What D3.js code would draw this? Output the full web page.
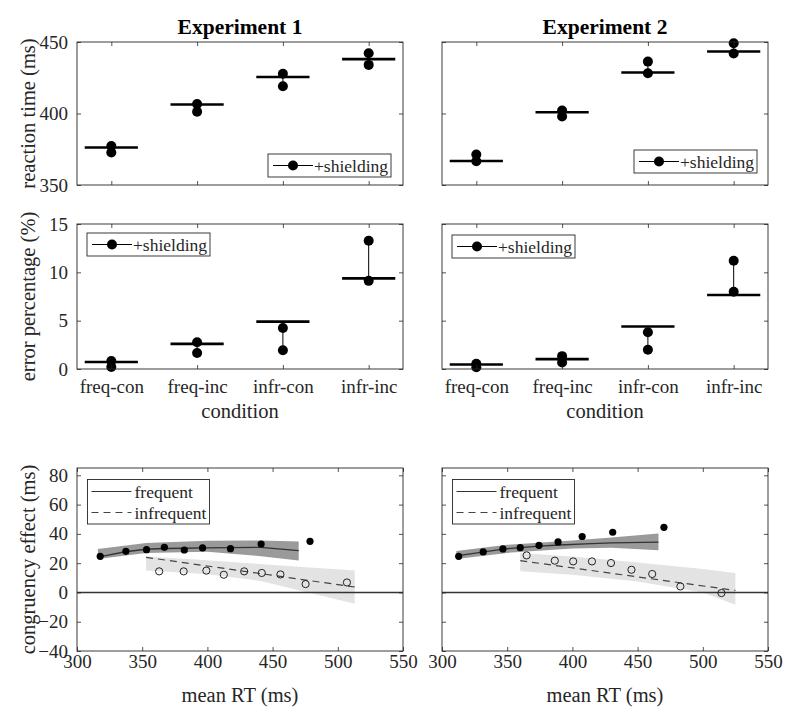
<!DOCTYPE html>
<html>
<head>
<meta charset="utf-8">
<script src="https://cdn.jsdelivr.net/npm/d3@7"></script>
<style>
  body { margin: 0; background: #fff; font-family: "Liberation Serif", serif; }
</style>
</head>
<body>
<div class="chart"></div>
<script>
// ---- data ----
const conditions = ["freq-con", "freq-inc", "infr-con", "infr-inc"];
const catTicks = [1, 2, 3, 4];

// reaction time (ms): observed mean + two model dots per condition
const rtMean1 = [376.2, 406.3, 425.5, 438.0];
const rtDotA1 = [377.3, 406.7, 427.8, 442.1];
const rtDotB1 = [372.7, 401.2, 419.0, 434.0];
const rtMean2 = [366.8, 400.9, 428.7, 443.4];
const rtDotA2 = [371.3, 402.1, 436.3, 449.1];
const rtDotB2 = [366.6, 397.9, 428.2, 442.0];

// error percentage (%)
const errMean1 = [0.73, 2.6, 4.9, 9.37];
const errDotA1 = [0.83, 2.77, 4.25, 13.26];
const errDotB1 = [0.2, 1.66, 1.94, 9.12];
const errMean2 = [0.47, 1.02, 4.4, 7.66];
const errDotA2 = [0.54, 1.33, 3.8, 11.2];
const errDotB2 = [0.19, 0.68, 2.0, 8.0];

// congruency effect vs mean RT, Experiment 1
const freqRT1 = [317.8, 337.5, 353.3, 367, 382.3, 396.3, 417.7, 441.2, 478.7];
const freqCE1 = [24.7, 28.1, 29.2, 30.8, 29.0, 30.4, 29.9, 33.1, 34.9];
const infrRT1 = [363, 381.8, 399.2, 412.6, 428.2, 441.7, 456, 475.3, 507];
const infrCE1 = [14.4, 14.4, 14.9, 12.1, 14.4, 13.3, 12.3, 5.7, 6.8];
const freqFitRT1 = [318, 337, 353, 367, 382, 396, 418, 441, 470];
const freqFitCE1 = [24.5, 27.8, 29.5, 30.0, 30.2, 30.4, 30.6, 30.8, 28.5];
const freqBandRT1 = [316, 353, 400, 441, 470];
const freqBandHi1 = [29.7, 33.8, 35.3, 35.5, 34.8];
const freqBandLo1 = [22.9, 27.0, 27.8, 24.8, 21.9];
const infrFitRT1 = [353, 513];
const infrFitCE1 = [24.0, 3.7];
const infrBandRT1 = [353, 400, 440, 470, 513];
const infrBandHi1 = [24.5, 22.0, 19.5, 17.5, 15.0];
const infrBandLo1 = [15.0, 12.5, 8.0, 1.5, -7.7];

// congruency effect vs mean RT, Experiment 2
const freqRT2 = [312.8, 331.6, 346.7, 360, 374.4, 389, 407.5, 430.9, 470.2];
const freqCE2 = [24.7, 27.7, 29.7, 30.6, 32.2, 34.5, 38.2, 41.1, 44.5];
const infrRT2 = [364.9, 386.5, 400.6, 415, 429.6, 445.3, 461.2, 482.8, 514.3];
const infrCE2 = [25.3, 21.7, 21.2, 21.2, 20.1, 15.5, 12.6, 4.1, -0.4];
const freqFitRT2 = [311, 331, 347, 360, 375, 390, 410, 430, 466];
const freqFitCE2 = [25.0, 27.5, 29.6, 30.6, 31.6, 32.4, 33.2, 33.8, 34.4];
const freqBandRT2 = [311, 350, 400, 430, 466];
const freqBandHi2 = [28.3, 32.5, 35.5, 37.5, 40.2];
const freqBandLo2 = [22.9, 27.0, 30.0, 30.5, 28.8];
const infrFitRT2 = [360, 525];
const infrFitCE2 = [21.7, 1.4];
const infrBandRT2 = [360, 400, 450, 500, 525];
const infrBandHi2 = [27.0, 24.5, 20.5, 16.0, 13.3];
const infrBandLo2 = [14.4, 12.0, 7.5, 0.0, -8.4];

const rtTicks = [350, 400, 450];
const errTicks = [0, 5, 10, 15];
const ceTicks = [-40, -20, 0, 20, 40, 60, 80];
const meanRtTicks = [300, 350, 400, 450, 500, 550];

// ---- layout ----
const W = 800, H = 725;
const cols = [{x: 77, w: 326}, {x: 442, w: 326}];
const rows = [{y: 42, h: 143}, {y: 224, h: 145}, {y: 468, h: 183}];
const ink = "#262626";
const serif = "Liberation Serif";

const svg = d3.select(".chart").append("svg")
    .attr("width", W)
    .attr("height", H)
    .attr("font-family", serif)
    .attr("fill", ink);

function styleAxis(g, size) {
    g.attr("font-family", serif).attr("font-size", size);
    g.select(".domain").remove();
    g.selectAll(".tick line").attr("stroke", ink).attr("stroke-width", 0.8);
    g.selectAll(".tick text").attr("fill", ink);
}

// box + inward ticks on all four sides
function frame(col, row, x, y, opts) {
    const g = svg.append("g")
        .attr("transform", `translate(${col.x},${row.y})`);
    const w = col.w, h = row.h;

    const bottom = d3.axisBottom(x).tickValues(opts.xTicks).tickSize(-4).tickPadding(opts.xPad);
    bottom.tickFormat(opts.xLabels ? opts.xFormat : () => "");
    g.append("g").attr("transform", `translate(0,${h})`).call(bottom).call(a => styleAxis(a, 19));

    g.append("g").call(d3.axisTop(x).tickValues(opts.xTicks).tickSize(-4).tickFormat(() => ""))
        .call(a => styleAxis(a, 19));

    const left = d3.axisLeft(y).tickValues(opts.yTicks).tickSize(-4).tickPadding(9);
    left.tickFormat(opts.yLabels ? d3.format("d") : () => "");
    g.append("g").call(left).call(a => styleAxis(a, 19));

    g.append("g").attr("transform", `translate(${w},0)`)
        .call(d3.axisRight(y).tickValues(opts.yTicks).tickSize(-4).tickFormat(() => ""))
        .call(a => styleAxis(a, 19));

    g.append("rect")
        .attr("width", w).attr("height", h)
        .attr("fill", "none").attr("stroke", ink).attr("stroke-width", 0.9);
    return g;
}

// data layer sits under the frame
function plotLayer(col, row) {
    return svg.append("g").attr("transform", `translate(${col.x},${row.y})`);
}

function dotPanel(col, row, yDomain, yTicks, means, dotA, dotB, showY, showX, legendPos) {
    const x = d3.scaleLinear().domain([0.6, 4.4]).range([0, col.w]);
    const y = d3.scaleLinear().domain(yDomain).range([row.h, 0]);
    const g = plotLayer(col, row);

    const rowsData = catTicks.map((c, i) => ({c, m: means[i], a: dotA[i], b: dotB[i]}));

    g.selectAll(".link").data(rowsData).join("line")
        .attr("x1", d => x(d.c)).attr("x2", d => x(d.c))
        .attr("y1", d => y(d.a)).attr("y2", d => y(d.b))
        .attr("stroke", "#000").attr("stroke-width", 1);

    g.selectAll(".mean").data(rowsData).join("line")
        .attr("x1", d => x(d.c - 0.31)).attr("x2", d => x(d.c + 0.31))
        .attr("y1", d => y(d.m)).attr("y2", d => y(d.m))
        .attr("stroke", "#000").attr("stroke-width", 2.6);

    g.selectAll(".dotA").data(rowsData).join("circle")
        .attr("cx", d => x(d.c)).attr("cy", d => y(d.a)).attr("r", 5).attr("fill", "#000");
    g.selectAll(".dotB").data(rowsData).join("circle")
        .attr("cx", d => x(d.c)).attr("cy", d => y(d.b)).attr("r", 5).attr("fill", "#000");

    frame(col, row, x, y, {
        xTicks: catTicks, xLabels: showX, xFormat: d => conditions[d - 1], xPad: 11,
        yTicks: yTicks, yLabels: showY
    });

    // legend
    const lg = svg.append("g").attr("transform", `translate(${col.x + legendPos[0]},${row.y + legendPos[1]})`);
    lg.append("rect").attr("width", 123).attr("height", 23)
        .attr("fill", "#fff").attr("stroke", ink).attr("stroke-width", 0.9);
    lg.append("line").attr("x1", 5).attr("x2", 45).attr("y1", 11.5).attr("y2", 11.5)
        .attr("stroke", "#000").attr("stroke-width", 1);
    lg.append("circle").attr("cx", 25).attr("cy", 11.5).attr("r", 5).attr("fill", "#000");
    lg.append("text").attr("x", 46).attr("y", 11.5).attr("dy", "0.35em")
        .attr("font-size", 17.5).text("+shielding");
}

function cePanel(col, row, d, showY) {
    const x = d3.scaleLinear().domain([300, 550]).range([0, col.w]);
    const y = d3.scaleLinear().domain([-40, 85]).range([row.h, 0]);
    const g = plotLayer(col, row);

    const band = d3.area().x(p => x(p.rt)).y0(p => y(p.lo)).y1(p => y(p.hi));
    const line = d3.line().x(p => x(p.rt)).y(p => y(p.ce));

    const infrBand = d.infrBandRT.map((rt, i) => ({rt, hi: d.infrBandHi[i], lo: d.infrBandLo[i]}));
    const freqBand = d.freqBandRT.map((rt, i) => ({rt, hi: d.freqBandHi[i], lo: d.freqBandLo[i]}));

    g.append("path").datum(infrBand).attr("d", band).attr("fill", "#e3e3e3");
    g.append("path").datum(freqBand).attr("d", band).attr("fill", "#9a9a9a");

    // zero reference
    g.append("line").attr("x1", 0).attr("x2", col.w)
        .attr("y1", y(0)).attr("y2", y(0))
        .attr("stroke", "#333").attr("stroke-width", 1.6);

    g.append("path").datum(d.freqFitRT.map((rt, i) => ({rt, ce: d.freqFitCE[i]})))
        .attr("d", line).attr("fill", "none").attr("stroke", "#333").attr("stroke-width", 1.3);
    g.append("path").datum(d.infrFitRT.map((rt, i) => ({rt, ce: d.infrFitCE[i]})))
        .attr("d", line).attr("fill", "none").attr("stroke", "#444").attr("stroke-width", 1.2)
        .attr("stroke-dasharray", "7,5");

    g.selectAll(".freq").data(d.freqRT.map((rt, i) => ({rt, ce: d.freqCE[i]}))).join("circle")
        .attr("cx", p => x(p.rt)).attr("cy", p => y(p.ce)).attr("r", 3.6).attr("fill", "#000");
    g.selectAll(".infr").data(d.infrRT.map((rt, i) => ({rt, ce: d.infrCE[i]}))).join("circle")
        .attr("cx", p => x(p.rt)).attr("cy", p => y(p.ce)).attr("r", 3.6)
        .attr("fill", "none").attr("stroke", "#222").attr("stroke-width", 1);

    frame(col, row, x, y, {
        xTicks: meanRtTicks, xLabels: true, xFormat: d3.format("d"), xPad: 4,
        yTicks: ceTicks, yLabels: showY
    });

    // legend
    const lg = svg.append("g").attr("transform", `translate(${col.x + 10.5},${row.y + 11.5})`);
    lg.append("rect").attr("width", 122).attr("height", 44.5)
        .attr("fill", "#fff").attr("stroke", ink).attr("stroke-width", 0.9);
    lg.append("line").attr("x1", 4).attr("x2", 44).attr("y1", 12).attr("y2", 12)
        .attr("stroke", "#333").attr("stroke-width", 1.2);
    lg.append("line").attr("x1", 4).attr("x2", 44).attr("y1", 33).attr("y2", 33)
        .attr("stroke", "#444").attr("stroke-width", 1.2).attr("stroke-dasharray", "7,5");
    lg.append("text").attr("x", 47).attr("y", 12).attr("dy", "0.35em").attr("font-size", 17.5).text("frequent");
    lg.append("text").attr("x", 47).attr("y", 33).attr("dy", "0.35em").attr("font-size", 17.5).text("infrequent");
}

// ---- panels ----
dotPanel(cols[0], rows[0], [350, 450], rtTicks, rtMean1, rtDotA1, rtDotB1, true, false, [191, 112]);
dotPanel(cols[1], rows[0], [350, 450], rtTicks, rtMean2, rtDotA2, rtDotB2, false, false, [192, 108]);
dotPanel(cols[0], rows[1], [0, 15], errTicks, errMean1, errDotA1, errDotB1, true, true, [10, 9]);
dotPanel(cols[1], rows[1], [0, 15], errTicks, errMean2, errDotA2, errDotB2, false, true, [10, 11]);

cePanel(cols[0], rows[2], {
    freqRT: freqRT1, freqCE: freqCE1, infrRT: infrRT1, infrCE: infrCE1,
    freqFitRT: freqFitRT1, freqFitCE: freqFitCE1,
    freqBandRT: freqBandRT1, freqBandHi: freqBandHi1, freqBandLo: freqBandLo1,
    infrFitRT: infrFitRT1, infrFitCE: infrFitCE1,
    infrBandRT: infrBandRT1, infrBandHi: infrBandHi1, infrBandLo: infrBandLo1
}, true);
cePanel(cols[1], rows[2], {
    freqRT: freqRT2, freqCE: freqCE2, infrRT: infrRT2, infrCE: infrCE2,
    freqFitRT: freqFitRT2, freqFitCE: freqFitCE2,
    freqBandRT: freqBandRT2, freqBandHi: freqBandHi2, freqBandLo: freqBandLo2,
    infrFitRT: infrFitRT2, infrFitCE: infrFitCE2,
    infrBandRT: infrBandRT2, infrBandHi: infrBandHi2, infrBandLo: infrBandLo2
}, false);

// ---- titles and axis labels ----
const cx = c => c.x + c.w / 2;
const cy = r => r.y + r.h / 2;

svg.selectAll(".title").data(["Experiment 1", "Experiment 2"]).join("text")
    .attr("x", (t, i) => cx(cols[i])).attr("y", 34)
    .attr("text-anchor", "middle").attr("font-size", 21.5).attr("font-weight", "bold")
    .attr("fill", "#000").text(t => t);

const yLabels = ["reaction time (ms)", "error percentage (%)", "congruency effect (ms)"];
svg.selectAll(".ylab").data(yLabels).join("text")
    .attr("transform", (t, i) => `translate(35,${cy(rows[i])}) rotate(-90)`)
    .attr("text-anchor", "middle").attr("font-size", 20.5).text(t => t);

cols.forEach(c => {
    svg.append("text").attr("x", cx(c)).attr("y", 418)
        .attr("text-anchor", "middle").attr("font-size", 20.5).text("condition");
    svg.append("text").attr("x", cx(c)).attr("y", 702)
        .attr("text-anchor", "middle").attr("font-size", 20.5).text("mean RT (ms)");
});

// make sure every label uses the serif face
svg.selectAll("text").attr("font-family", serif);
</script>
</body>
</html>
